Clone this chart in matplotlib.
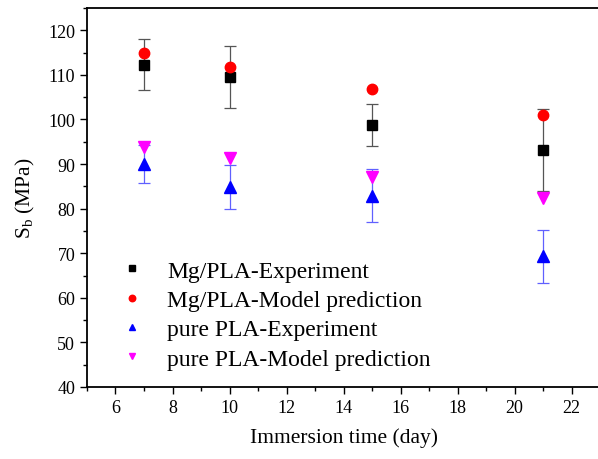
import matplotlib
matplotlib.use("Agg")
import matplotlib.pyplot as plt
from matplotlib.ticker import MultipleLocator

plt.rcParams['font.family'] = ['Liberation Serif', 'DejaVu Serif']
plt.rcParams['mathtext.fontset'] = 'custom'
plt.rcParams['mathtext.rm'] = 'Liberation Serif'

days = [7, 10, 15, 21]
mg_exp = [112.3, 109.5, 98.8, 93.1]
mg_exp_err = [5.7, 7.0, 4.7, 9.2]
mg_model = [114.8, 111.8, 106.9, 101.0]
pla_exp = [90.0, 84.9, 82.9, 69.3]
pla_exp_err = [4.3, 5.0, 6.0, 6.0]
pla_model = [93.8, 91.3, 87.2, 82.5]

fig = plt.figure(figsize=(5.98, 4.60), dpi=100)
ax = fig.add_axes([87/598, 1 - 388/460, (600 - 87)/598, (388 - 9)/460])

ax.errorbar(days, mg_exp, yerr=mg_exp_err, fmt='none', ecolor='#555555',
            elinewidth=0.9, capsize=4, capthick=0.9, zorder=2)
ax.errorbar(days, pla_exp, yerr=pla_exp_err, fmt='none', ecolor='#6060ff',
            elinewidth=0.9, capsize=4, capthick=0.9, zorder=2)
ax.plot(days, mg_exp, 's', color='black', ms=7, ls='none', label='Mg/PLA-Experiment', zorder=3)
ax.plot(days, mg_model, 'o', color='red', ms=7.5, ls='none', label='Mg/PLA-Model prediction', zorder=3)
ax.plot(days, pla_exp, '^', color='blue', ms=8, ls='none', label='pure PLA-Experiment', zorder=3)
ax.plot(days, pla_model, 'v', color='magenta', ms=8, ls='none', label='pure PLA-Model prediction', zorder=3)

ax.set_xlim(5, 23)
ax.set_ylim(40, 125)
ax.set_xticks([6, 8, 10, 12, 14, 16, 18, 20, 22])
ax.set_yticks([40, 50, 60, 70, 80, 90, 100, 110, 120])
ax.xaxis.set_minor_locator(MultipleLocator(1))
ax.yaxis.set_minor_locator(MultipleLocator(5))
ax.tick_params(which='major', direction='out', length=5, width=1.0, labelsize=13)
ax.tick_params(which='minor', direction='out', length=3, width=1.0)
for s in ['left', 'bottom', 'top']:
    ax.spines[s].set_linewidth(1.3)
ax.spines['right'].set_visible(False)

ax.set_xlabel('Immersion time (day)', fontsize=15.5, labelpad=8)
ax.set_ylabel(r'S$_\mathrm{b}$ (MPa)', fontsize=15.5, labelpad=8)

leg = ax.legend(loc='upper left', bbox_to_anchor=(0.064, 0.335), frameon=False,
                fontsize=17, handletextpad=1.0, labelspacing=0.33,
                markerscale=0.62, handlelength=1.0, borderaxespad=0, borderpad=0)

fig.savefig('out.png', dpi=100)
